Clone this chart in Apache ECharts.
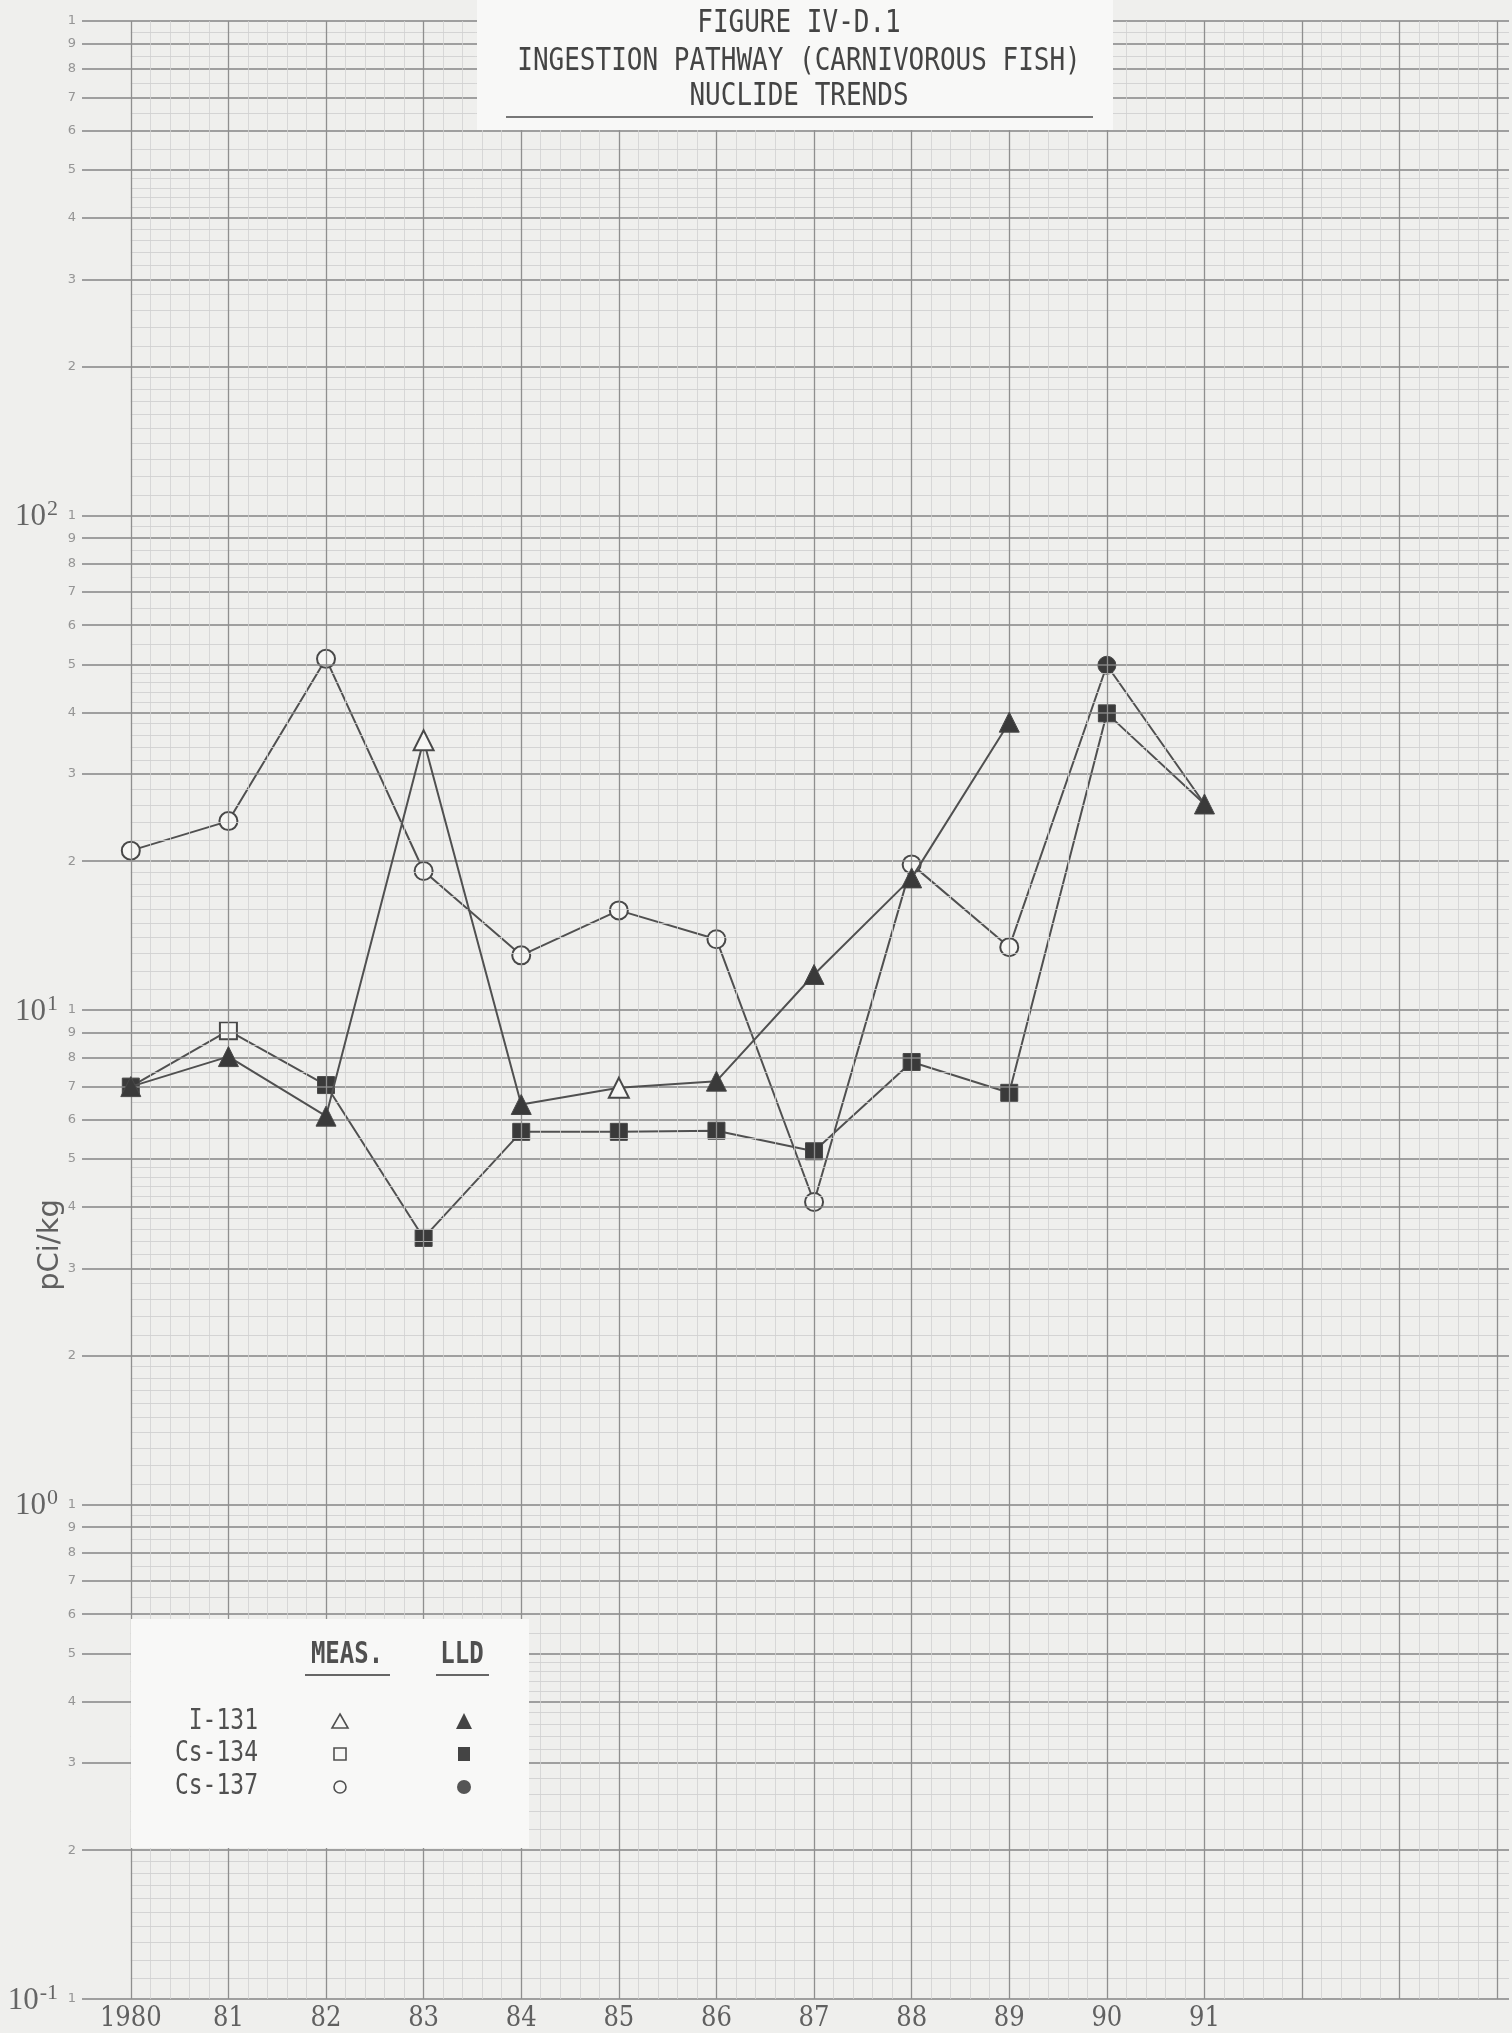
<!DOCTYPE html>
<html>
<head>
<meta charset="utf-8">
<script src="https://cdn.jsdelivr.net/npm/echarts@6/dist/echarts.min.js"></script>
</head>
<body style="margin:0;background:#efefed;">
<div id="main" style="width:1512px;height:2033px;"></div>
<script type="text/javascript">
// values (pCi/kg)
var years = [1980, 1981, 1982, 1983, 1984, 1985, 1986, 1987, 1988, 1989, 1990, 1991];
var yearLabels = ['1980', '81', '82', '83', '84', '85', '86', '87', '88', '89', '90', '91'];

var i131 = [7.0, 8.05, 6.1, 35.1, 6.44, 6.96, 7.18, 11.8, 18.5, 38.2, null, 26.1];
var i131Kind = ['L', 'L', 'L', 'M', 'L', 'M', 'L', 'L', 'L', 'L', '', 'L'];

var cs134 = [7.0, 9.08, 7.05, 3.46, 5.67, 5.67, 5.70, 5.18, 7.85, 6.8, 39.8, 26.1];
var cs134Kind = ['L', 'M', 'L', 'L', 'L', 'L', 'L', 'L', 'L', 'L', 'L', ''];

var cs137 = [21.0, 24.1, 51.3, 19.1, 12.9, 15.9, 13.9, 4.09, 19.7, 13.4, 49.8, 26.1];
var cs137Kind = ['M', 'M', 'M', 'M', 'M', 'M', 'M', 'M', 'M', 'M', 'L', ''];

// graph paper rulings
var decades = [0.1, 1, 10, 100];
var mantissas = [1, 2, 3, 4, 5, 6, 7, 8, 9];
var fineSteps = [[1, 2, 0.1], [2, 5, 0.2], [5, 10, 0.5]];
var paperYears = [1980, 1981, 1982, 1983, 1984, 1985, 1986, 1987, 1988, 1989, 1990, 1991, 1992, 1993, 1994];

var X_MIN = 1979.5, X_MAX = 1994.12;
var INK = '#505050';

var myChart = echarts.init(document.getElementById('main'));

// build ruling lines (as markLines so they go through the axes' scales)
var rulings = [];
decades.forEach(function (d) {
    mantissas.forEach(function (m) {
        rulings.push({
            yAxis: +(d * m).toPrecision(3),
            label: {formatter: String(m)},
            lineStyle: {color: '#858585', width: 1.5, type: 'solid'}
        });
    });
    fineSteps.forEach(function (s) {
        for (var v = s[0] + s[2]; v < s[1] - 1e-9; v += s[2]) {
            if (Math.abs(v - Math.round(v)) < 1e-6) continue;
            var val = +(d * v).toPrecision(4);
            rulings.push([
                {coord: [1980, val], label: {show: false}, lineStyle: {color: '#cdcdcd', width: 0.8, type: 'solid'}},
                {coord: [X_MAX, val]}
            ]);
        }
    });
});
rulings.push({yAxis: 1000, label: {formatter: '1'}, lineStyle: {color: '#858585', width: 1.5, type: 'solid'}});

paperYears.forEach(function (y) {
    rulings.push({xAxis: y, label: {show: false}, lineStyle: {color: '#8f8f8f', width: 1.3, type: 'solid'}});
    if (y < 1994) {
        for (var k = 1; k < 5; k++) {
            rulings.push({xAxis: +(y + k * 0.2).toFixed(1), label: {show: false}, lineStyle: {color: '#d0d0d0', width: 0.8, type: 'solid'}});
        }
    }
});

function symbolFor(kind, shape) {
    if (kind === '') return {symbol: 'none'};
    var open = kind === 'M';
    return {
        symbol: shape,
        itemStyle: {
            color: open ? '#f6f6f4' : '#3a3a3a',
            borderColor: '#484848',
            borderWidth: open ? 2 : 1
        }
    };
}

function buildSeries(name, vals, kinds, shape, size, z) {
    var data = years.map(function (y, i) {
        var o = symbolFor(kinds[i], shape);
        o.value = [y, vals[i]];
        return o;
    });
    return {
        name: name,
        type: 'line',
        data: data,
        symbolSize: size,
        connectNulls: false,
        z: z,
        lineStyle: {color: INK, width: 2},
        animation: false
    };
}

function supLabel(v) {
    var e = Math.round(Math.log(v) / Math.LN10);
    if (e > 2) return '';
    return '{b|10}{s|' + e + '}';
}

var option = {
    backgroundColor: '#efefed',
    animation: false,
    grid: {left: 82, right: 0, top: 21, bottom: 34},
    xAxis: {
        type: 'value',
        min: X_MIN,
        max: X_MAX,
        interval: 0.5,
        splitLine: {show: false},
        axisLine: {show: false},
        axisTick: {show: false},
        axisLabel: {
            margin: 6,
            fontSize: 27,
            fontFamily: '"DejaVu Serif Condensed", "Liberation Serif", serif',
            color: '#606060',
            formatter: function (v) {
                var r = Math.round(v);
                if (Math.abs(v - r) > 1e-6) return '';
                var i = years.indexOf(r);
                return i >= 0 ? yearLabels[i] : '';
            }
        }
    },
    yAxis: {
        type: 'log',
        logBase: 10,
        min: 0.1,
        max: 1000,
        splitLine: {show: false},
        axisLine: {show: false},
        axisTick: {show: false},
        axisLabel: {
            margin: 24,
            formatter: supLabel,
            rich: {
                b: {fontSize: 31, fontFamily: '"Liberation Serif", serif', color: '#656565', lineHeight: 34, verticalAlign: 'bottom'},
                s: {fontSize: 22, fontFamily: '"Liberation Serif", serif', color: '#656565', lineHeight: 34, verticalAlign: 'top', padding: [0, 0, 14, 1]}
            }
        }
    },
    series: [
        {
            name: 'paper',
            type: 'scatter',
            data: [[1980, 1]],
            symbolSize: 0,
            silent: true,
            z: 1,
            markLine: {
                silent: true,
                animation: false,
                symbol: ['none', 'none'],
                label: {show: true, position: 'start', distance: 6, color: '#959595', fontSize: 13, fontFamily: 'DejaVu Sans'},
                emphasis: {disabled: true},
                data: rulings
            }
        },
        buildSeries('Cs-137', cs137, cs137Kind, 'circle', 18, 3),
        buildSeries('Cs-134', cs134, cs134Kind, 'rect', 17, 4),
        buildSeries('I-131', i131, i131Kind, 'triangle', 20, 5)
    ],
    graphic: [
        // title block
        {type: 'rect', left: 477, top: 0, z: 10, shape: {width: 636, height: 130}, style: {fill: '#f8f8f7'}},
        {type: 'text', x: 799, y: 24, scaleY: 1.25, z: 11,
            style: {text: 'FIGURE IV-D.1', x: 0, y: 0, textAlign: 'center', textVerticalAlign: 'middle', font: '26px "DejaVu Sans Mono"', fill: '#444'}},
        {type: 'text', x: 799, y: 62, scaleY: 1.25, z: 11,
            style: {text: 'INGESTION PATHWAY (CARNIVOROUS FISH)', x: 0, y: 0, textAlign: 'center', textVerticalAlign: 'middle', font: '26px "DejaVu Sans Mono"', fill: '#444'}},
        {type: 'text', x: 799, y: 97, scaleY: 1.25, z: 11,
            style: {text: 'NUCLIDE TRENDS', x: 0, y: 0, textAlign: 'center', textVerticalAlign: 'middle', font: '26px "DejaVu Sans Mono"', fill: '#444'}},
        {type: 'line', z: 11, shape: {x1: 506, y1: 117, x2: 1093, y2: 117}, style: {stroke: '#777', lineWidth: 2}},

        // axis name
        {type: 'text', x: 50, y: 1245, rotation: Math.PI / 2, z: 11,
            style: {text: 'pCi/kg', x: 0, y: 0, textAlign: 'center', textVerticalAlign: 'middle', font: '29px "DejaVu Sans"', fill: '#606060'}},

        // legend box
        {type: 'rect', left: 131, top: 1619, z: 10, shape: {width: 398, height: 229}, style: {fill: '#f8f8f7'}},
        {type: 'text', x: 347, y: 1655, scaleY: 1.25, z: 11,
            style: {text: 'MEAS.', x: 0, y: 0, textAlign: 'center', textVerticalAlign: 'middle', font: 'bold 24px "DejaVu Sans Mono"', fill: INK}},
        {type: 'line', z: 11, shape: {x1: 305, y1: 1675, x2: 390, y2: 1675}, style: {stroke: '#666', lineWidth: 2}},
        {type: 'text', x: 462, y: 1655, scaleY: 1.25, z: 11,
            style: {text: 'LLD', x: 0, y: 0, textAlign: 'center', textVerticalAlign: 'middle', font: 'bold 24px "DejaVu Sans Mono"', fill: INK}},
        {type: 'line', z: 11, shape: {x1: 436, y1: 1675, x2: 489, y2: 1675}, style: {stroke: '#666', lineWidth: 2}},

        {type: 'text', x: 258, y: 1722, scaleY: 1.25, z: 11,
            style: {text: 'I-131', x: 0, y: 0, textAlign: 'right', textVerticalAlign: 'middle', font: '23px "DejaVu Sans Mono"', fill: INK}},
        {type: 'text', x: 258, y: 1754, scaleY: 1.25, z: 11,
            style: {text: 'Cs-134', x: 0, y: 0, textAlign: 'right', textVerticalAlign: 'middle', font: '23px "DejaVu Sans Mono"', fill: INK}},
        {type: 'text', x: 258, y: 1787, scaleY: 1.25, z: 11,
            style: {text: 'Cs-137', x: 0, y: 0, textAlign: 'right', textVerticalAlign: 'middle', font: '23px "DejaVu Sans Mono"', fill: INK}},

        {type: 'polygon', z: 11, shape: {points: [[340, 1714], [348, 1728], [332, 1728]]}, style: {fill: 'none', stroke: INK, lineWidth: 1.6}},
        {type: 'rect', z: 11, shape: {x: 334, y: 1748, width: 12, height: 12}, style: {fill: 'none', stroke: INK, lineWidth: 1.6}},
        {type: 'circle', z: 11, shape: {cx: 340, cy: 1787, r: 6}, style: {fill: 'none', stroke: INK, lineWidth: 1.6}},

        {type: 'polygon', z: 11, shape: {points: [[464, 1713], [472, 1729], [456, 1729]]}, style: {fill: '#444'}},
        {type: 'rect', z: 11, shape: {x: 458, y: 1747, width: 12, height: 14}, style: {fill: '#444'}},
        {type: 'circle', z: 11, shape: {cx: 464, cy: 1787, r: 7}, style: {fill: '#555'}}
    ]
};

myChart.setOption(option);
</script>
</body>
</html>
